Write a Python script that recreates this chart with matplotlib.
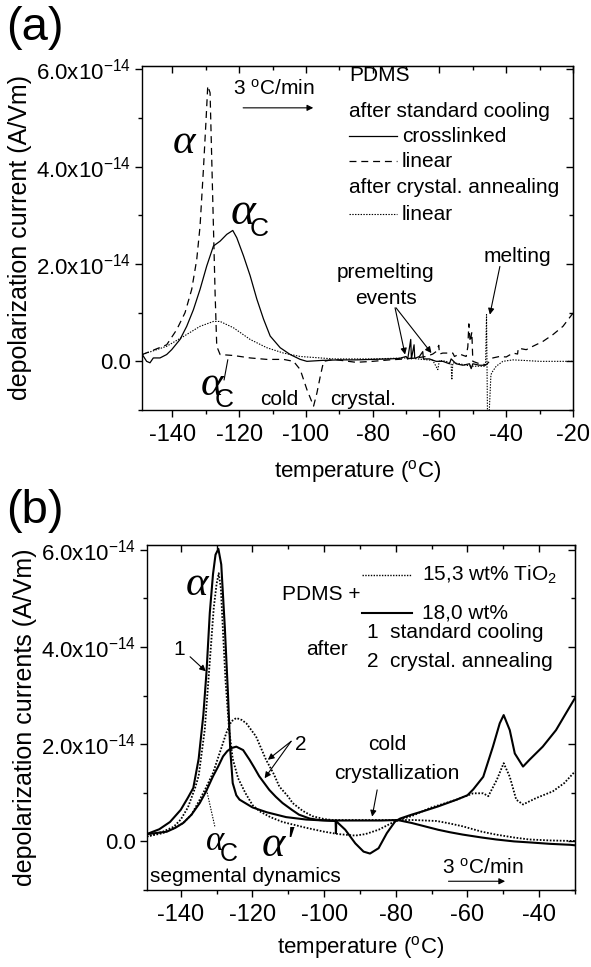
import numpy as np
import matplotlib
matplotlib.use("Agg")
import matplotlib.pyplot as plt
from matplotlib.ticker import MultipleLocator

plt.rcParams['font.family'] = ['Liberation Sans', 'DejaVu Sans']
plt.rcParams['mathtext.fontset'] = 'custom'
plt.rcParams['mathtext.rm'] = 'Liberation Sans'
plt.rcParams['mathtext.default'] = 'regular'
plt.rcParams['axes.unicode_minus'] = False
plt.rcParams['lines.scale_dashes'] = False

# ---------------- data (currents in units of 1e-14 A/Vm) ----------------
# panel (a): PDMS
a_cross_T = [-149, -147.7, -146.7, -145.7, -143.7, -141.7, -140.2, -137.7, -135.7, -133.7,
             -131.7, -129.7, -127.7, -125.7, -123.7, -121.9, -120.7, -118.7, -116.7, -114.7,
             -112.7, -110.7, -107.7, -104.7, -101.7, -99.7, -95, -90, -85, -80, -75, -72,
             -70, -69.5, -68.6, -68.4, -67.6, -67.4, -66, -65, -64.8, -63, -61, -59, -57,
             -56.5, -55, -53, -51, -50.5, -50, -48, -46.5]
a_cross_I = [0.14, 0.0, -0.03, 0.07, 0.07, 0.14, 0.24, 0.45, 0.72, 1.06,
             1.48, 1.96, 2.37, 2.47, 2.61, 2.69, 2.54, 2.17, 1.76, 1.28,
             0.87, 0.52, 0.28, 0.14, 0.04, 0.0, 0.02, 0.03, 0.03, 0.04, 0.05, 0.06,
             0.1, 0.05, 0.45, 0.05, 0.34, 0.06, 0.1, 0.2, 0.05, 0.05, 0.0, 0.0, -0.05,
             0.05, -0.05, -0.08, -0.05, -0.15, -0.05, -0.08, -0.08]

a_lin_T = [-149, -141.7, -138.7, -136.2, -134.2, -132.7, -131.7, -130.7, -129.9, -129.4,
           -128.7, -128.2, -127.7, -127.2, -126.7, -125.7, -121.7, -116.7, -111.7, -106.7,
           -103.7, -101.7, -99.7, -97.7, -96.7, -95.7, -94.7, -91.7, -85, -80, -75, -70,
           -66, -64, -62, -61, -60.2, -60, -59, -56, -55.5, -54, -52, -51.5, -51.2, -50.8,
           -50.3, -50, -48, -46, -44, -42, -40, -38, -36.6, -36.4, -34, -32, -29, -26, -23, -20]
a_lin_I = [0.14, 0.34, 0.65, 1.0, 1.48, 2.09, 2.78, 3.94, 4.97, 5.66,
           5.52, 4.15, 2.78, 1.41, 0.31, 0.14, 0.12, 0.07, 0.04, 0.04,
           0.0, -0.17, -0.58, -0.92, -0.65, -0.31, 0.0, 0.04, -0.02, 0.0, 0.03, 0.05,
           0.08, 0.1, 0.15, 0.2, 0.33, 0.15, 0.17, 0.17, 0.1, 0.15, 0.1, 0.3, 0.77, 0.4,
           0.6, 0.0, -0.05, -0.07, 0.07, 0.1, 0.09, 0.17, 0.15, 0.27, 0.24, 0.31, 0.41, 0.55, 0.72, 0.99]

a_ann_T = [-149, -141.7, -136.7, -131.7, -127.7, -125.7, -121.7, -116.7, -111.7, -106.7,
           -101.7, -91.7, -85, -80, -75, -70, -68, -65, -62, -60.5, -60, -58, -56.5, -56.3,
           -56, -54, -52, -50, -48, -46.2, -45.9, -45.6, -45.2, -44.6, -44.4, -43, -41,
           -38, -35, -30, -20]
a_ann_I = [0.14, 0.31, 0.51, 0.72, 0.82, 0.82, 0.69, 0.45, 0.28, 0.17,
           0.10, 0.05, 0.05, 0.05, 0.06, 0.07, 0.06, 0.04, 0.02, -0.17, 0.02, 0.0, -0.05, -0.38,
           -0.03, -0.05, -0.08, -0.1, -0.1, -0.1, 0.96, -1.2, -1.2, -0.3, -0.24, -0.1, 0.0,
           0.03, 0.02, 0.0, 0.0]

# panel (b): PDMS + TiO2
b_18_std_T = [-149.5, -146, -143, -140, -138, -136.5, -135, -133.7, -132.8, -131.9, -131,
              -130.3, -129.5, -128.7, -127.7, -126.8, -126.2, -125.5, -124.5, -123.6, -120,
              -116, -110.6, -105, -100, -96.7, -94.1, -91.3, -89, -87.2, -84.8, -82.5, -80.2,
              -78.8, -75.6, -72, -68.2, -63, -60, -58.4, -55.6, -52.9, -51, -49.9, -48.2,
              -46.8, -44.5, -42.7, -39, -35.3, -32.5, -30]
b_18_std_I = [0.15, 0.25, 0.4, 0.65, 0.9, 1.1, 1.7, 2.6, 3.5, 4.7, 5.5,
              5.9, 6.02, 5.7, 4.4, 3.0, 1.9, 1.2, 0.95, 0.86, 0.7,
              0.6, 0.5, 0.45, 0.43, 0.42, 0.24, -0.04, -0.21, -0.25, -0.14, 0.17, 0.41,
              0.47, 0.55, 0.63, 0.72, 0.86, 0.95, 1.07, 1.33, 1.95, 2.43, 2.6, 2.29,
              1.81, 1.54, 1.68, 1.95, 2.29, 2.64, 2.95]

b_18_ann_T = [-149.5, -146, -143.9, -141.5, -139.3, -137, -134.7, -133, -131, -129.5, -128.2,
              -127, -125.9, -124.5, -122.6, -120.8, -119.5, -118.1, -116.5, -115.3, -113.5,
              -111.6, -109, -107, -104, -101.4, -98, -96.8, -96.7, -96.6, -92, -88, -84,
              -79.5, -75.6, -71.9, -68.2, -65, -61.3, -56, -52, -47, -42.8, -37, -31.3, -30]
b_18_ann_I = [0.15, 0.18, 0.2, 0.28, 0.38, 0.55, 0.79, 1.02, 1.34, 1.55, 1.75,
              1.86, 1.92, 1.95, 1.88, 1.68, 1.52, 1.34, 1.18, 1.06, 0.92,
              0.79, 0.65, 0.55, 0.47, 0.44, 0.43, 0.43, 0.17, 0.43, 0.43, 0.43, 0.43,
              0.44, 0.38, 0.31, 0.24, 0.19, 0.14, 0.08, 0.04, 0.0, -0.02, -0.05, -0.07, -0.08]

b_15_std_T = [-149.5, -145, -142, -140, -138, -136, -135, -133.3, -131.9, -130.8, -130,
              -129.4, -128.8, -128.2, -127.5, -126.5, -125.5, -124, -122, -120, -118, -115,
              -111.6, -105, -100, -96, -91.3, -88.5, -84.8, -81.1, -78.4, -75.6, -70.4, -63,
              -58.4, -55.6, -54.2, -51.8, -49.9, -48.2, -46.4, -44.5, -40.9, -36.2, -33, -30]
b_15_std_I = [0.1, 0.2, 0.3, 0.45, 0.7, 1.1, 1.35, 2.3, 3.7, 4.8, 5.3,
              5.52, 5.2, 4.3, 3.3, 2.3, 1.7, 1.3, 1.0, 0.75, 0.62, 0.5,
              0.4, 0.28, 0.2, 0.15, 0.12, 0.15, 0.24, 0.38, 0.46, 0.52, 0.69, 0.86,
              0.99, 0.99, 0.93, 1.27, 1.61, 1.33, 0.86, 0.76, 0.89, 1.03, 1.2, 1.44]

b_15_ann_T = [-149.5, -145, -142, -139.3, -137, -134.7, -133, -131, -129, -127.3, -125.9,
              -124.5, -123, -121.7, -119, -116.2, -114, -112.5, -110, -108.8, -106, -103.3,
              -100, -97.7, -90, -85, -79.7, -75, -68.6, -65, -61.3, -56, -52, -47, -42.8,
              -37, -31.3, -30]
b_15_ann_I = [0.1, 0.17, 0.27, 0.38, 0.55, 0.86, 1.1, 1.41, 1.85, 2.23, 2.47,
              2.54, 2.5, 2.43, 2.16, 1.68, 1.38, 1.13, 0.92, 0.79, 0.63, 0.52,
              0.46, 0.44, 0.44, 0.44, 0.44, 0.44, 0.42, 0.37, 0.31, 0.2, 0.14, 0.08, 0.04,
              0.02, 0.01, 0.01]

y_ticks = [0, 2, 4, 6]
y_ticklabels = ['0.0', '2.0x10$^{-14}$', '4.0x10$^{-14}$', '6.0x10$^{-14}$']
x_ticks_a = [-140, -120, -100, -80, -60, -40, -20]
x_ticks_b = [-140, -120, -100, -80, -60, -40]

W, H = 591, 967
fig = plt.figure(figsize=(W / 100, H / 100), dpi=100)


def px_axes(l, t, r, b):
    return fig.add_axes([l / W, 1 - b / H, (r - l) / W, (b - t) / H])


def style_axes(ax, xlim, ylim, xt):
    ax.set_xlim(*xlim)
    ax.set_ylim(*ylim)
    ax.set_xticks(xt)
    ax.set_xticklabels([str(v) for v in xt])
    ax.xaxis.set_minor_locator(MultipleLocator(10))
    ax.set_yticks(y_ticks)
    ax.set_yticklabels(y_ticklabels)
    ax.yaxis.set_minor_locator(MultipleLocator(1))
    ax.tick_params(which='both', direction='out', width=1.0)
    ax.tick_params(axis='x', labelsize=17, pad=5)
    ax.tick_params(axis='y', labelsize=16, pad=3)
    ax.tick_params(which='major', length=5)
    ax.tick_params(which='minor', length=3)
    for s in ax.spines.values():
        s.set_linewidth(1.0)
    top = ax.secondary_xaxis('top')
    top.set_xticks(xt)
    top.xaxis.set_minor_locator(MultipleLocator(10))
    top.tick_params(which='both', direction='in', labeltop=False, width=1.0)
    top.tick_params(which='major', length=5)
    top.tick_params(which='minor', length=3)
    right = ax.secondary_yaxis('right')
    right.set_yticks(y_ticks)
    right.yaxis.set_minor_locator(MultipleLocator(1))
    right.tick_params(which='both', direction='in', labelright=False, width=1.0)
    right.tick_params(which='major', length=5)
    right.tick_params(which='minor', length=3)


arrow = dict(arrowstyle='-|>', lw=0.8, color='k', mutation_scale=9, shrinkA=0, shrinkB=0)
sfs = 15
afs = 31


def alpha_c(ax, x, y, xc, yc, size=afs, csize=19):
    ax.text(x, y, 'α', fontfamily='Liberation Serif', style='italic', fontsize=size,
            ha='center', va='center')
    ax.text(xc, yc, 'C', fontsize=csize, ha='center', va='center')


# ---------------- panel (a) ----------------
axa = px_axes(142.3, 66, 573, 410)
style_axes(axa, (-149, -20), (-1.0, 6.07), x_ticks_a)
axa.plot(a_cross_T, a_cross_I, color='k', lw=0.9)
axa.plot(a_lin_T, a_lin_I, color='k', lw=0.9, dashes=(5, 3.5))
axa.plot(a_ann_T, a_ann_I, color='k', lw=0.8, dashes=(1, 1))
axa.set_ylabel('depolarization current (A/Vm)', fontsize=18, labelpad=3)
axa.set_xlabel('temperature ($^{o}$C)', fontsize=16, labelpad=9)

axa.text(-121.8, 5.61, '3 $^{o}$C/min', fontsize=sfs, va='center')
axa.annotate('', xy=(-97.8, 5.21), xytext=(-118.8, 5.21), arrowprops=arrow)

lx0, lx1, ltx = -87.0, -72.6, -71.3
axa.text(lx0, 5.88, 'PDMS', fontsize=sfs, va='center')
axa.text(lx0, 5.14, 'after standard cooling', fontsize=sfs, va='center')
axa.plot([lx0, lx1], [4.63, 4.63], color='k', lw=0.9)
axa.text(ltx, 4.63, 'crosslinked', fontsize=sfs, va='center')
axa.plot([lx0, lx1], [4.11, 4.11], color='k', lw=0.9, dashes=(5, 3.5))
axa.text(ltx, 4.11, 'linear', fontsize=sfs, va='center')
axa.text(lx0, 3.57, 'after crystal. annealing', fontsize=sfs, va='center')
axa.plot([lx0, lx1], [3.02, 3.02], color='k', lw=0.8, dashes=(1, 1))
axa.text(ltx, 3.02, 'linear', fontsize=sfs, va='center')

axa.text(-136.5, 4.49, 'α', fontfamily='Liberation Serif', style='italic', fontsize=afs,
         ha='center', va='center')
alpha_c(axa, -118.8, 3.05, -114.0, 2.72, size=34)
alpha_c(axa, -128.2, -0.48, -124.5, -0.80)
axa.plot([-123.4, -124.5], [0.03, -0.38], color='k', lw=0.8)

axa.text(-108, -0.79, 'cold', fontsize=sfs, ha='center', va='center')
axa.text(-82.8, -0.79, 'crystal.', fontsize=sfs, ha='center', va='center')

axa.text(-46.9, 2.16, 'melting', fontsize=sfs, va='center')
axa.annotate('', xy=(-44.9, 0.96), xytext=(-41.9, 1.95), arrowprops=arrow)
axa.text(-76.1, 1.82, 'premelting', fontsize=sfs, ha='center', va='center')
axa.text(-76.1, 1.30, 'events', fontsize=sfs, ha='center', va='center')
axa.annotate('', xy=(-70.3, 0.14), xytext=(-73.3, 1.10), arrowprops=arrow)
axa.annotate('', xy=(-62.4, 0.17), xytext=(-73.0, 1.10), arrowprops=arrow)

fig.text(6 / W, 1 - 28 / H, '(a)', fontsize=34, va='center', ha='left')

# ---------------- panel (b) ----------------
axb = px_axes(146.7, 545, 575, 890)
style_axes(axb, (-149.5, -30), (-1.0, 6.1), x_ticks_b)
axb.plot(b_18_std_T, b_18_std_I, color='k', lw=1.5)
axb.plot(b_18_ann_T, b_18_ann_I, color='k', lw=1.5)
axb.plot(b_15_std_T, b_15_std_I, color='k', lw=1.3, dashes=(1.2, 1.2))
axb.plot(b_15_ann_T, b_15_ann_I, color='k', lw=1.3, dashes=(1.2, 1.2))
axb.set_ylabel('depolarization currents (A/Vm)', fontsize=18, labelpad=3)
axb.set_xlabel('temperature ($^{o}$C)', fontsize=16, labelpad=6)

axb.plot([-89.3, -75.4], [5.49, 5.49], color='k', lw=1.0, dashes=(1, 1))
axb.text(-72.7, 5.49, '15,3 wt% TiO$_2$', fontsize=sfs, va='center')
axb.plot([-89.3, -75.4], [4.70, 4.70], color='k', lw=1.5)
axb.text(-72.7, 4.70, '18,0 wt%', fontsize=sfs, va='center')
axb.text(-89.8, 5.08, 'PDMS +', fontsize=sfs, ha='right', va='center')
axb.text(-93.5, 3.94, 'after', fontsize=sfs, ha='right', va='center')
axb.text(-87.9, 4.29, '1  standard cooling', fontsize=sfs, va='center')
axb.text(-87.9, 3.70, '2  crystal. annealing', fontsize=sfs, va='center')

axb.text(-135.4, 5.28, 'α', fontfamily='Liberation Serif', style='italic', fontsize=afs,
         ha='center', va='center')
axb.text(-140.5, 3.94, '1', fontsize=sfs, ha='center', va='center')
axb.annotate('', xy=(-133.0, 3.50), xytext=(-137.4, 3.80), arrowprops=arrow)
axb.text(-106.4, 1.99, '2', fontsize=sfs, ha='center', va='center')
axb.annotate('', xy=(-115.7, 1.68), xytext=(-109.2, 2.06), arrowprops=arrow)
axb.annotate('', xy=(-116.6, 1.30), xytext=(-109.2, 2.06), arrowprops=arrow)

alpha_c(axb, -130.5, 0.0, -126.6, -0.25, size=25, csize=18)
axb.plot([-132.8, -130.5], [1.06, 0.31], color='k', lw=0.8, dashes=(1, 1))
axb.text(-112.8, -0.07, "α'", fontfamily='Liberation Serif', style='italic', fontsize=32,
         ha='center', va='center')
axb.text(-148.6, -0.72, 'segmental dynamics', fontsize=sfs, va='center')

axb.text(-82.4, 1.99, 'cold', fontsize=sfs, ha='center', va='center')
axb.text(-79.6, 1.40, 'crystallization', fontsize=sfs, ha='center', va='center')
axb.annotate('', xy=(-86.6, 0.51), xytext=(-85.2, 1.06), arrowprops=arrow)

axb.text(-55.8, -0.55, '3 $^{o}$C/min', fontsize=sfs, ha='center', va='center')
axb.annotate('', xy=(-49.5, -0.82), xytext=(-65.3, -0.82), arrowprops=arrow)

fig.text(6 / W, 1 - 511 / H, '(b)', fontsize=34, va='center', ha='left')

fig.savefig('out.png', dpi=100)
